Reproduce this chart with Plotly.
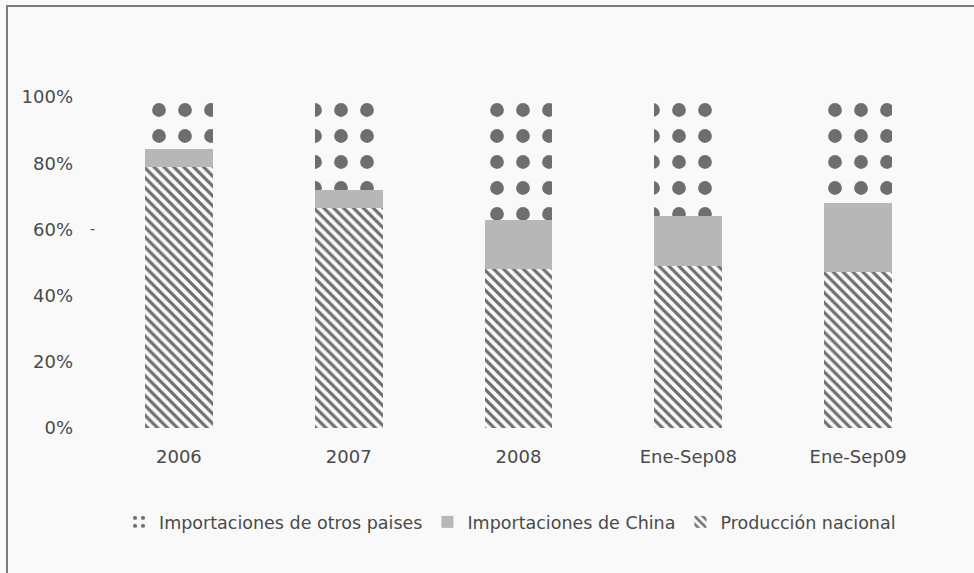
import plotly.graph_objects as go

categories = ["2006", "2007", "2008", "Ene-Sep08", "Ene-Sep09"]
produccion_nacional = [0.79, 0.665, 0.48, 0.49, 0.47]
importaciones_china = [0.053, 0.055, 0.148, 0.15, 0.21]
importaciones_otros = [0.157, 0.28, 0.372, 0.36, 0.32]

font_family = "DejaVu Sans"
text_color = "#4a4a4a"

fig = go.Figure()
fig.add_trace(go.Bar(
    x=categories, y=produccion_nacional, name="Producción nacional",
    marker=dict(color="#6e6e6e", line=dict(width=0),
                pattern=dict(shape="\\", size=7, solidity=0.45,
                             bgcolor="#f9f9f9", fillmode="replace")),
))
fig.add_trace(go.Bar(
    x=categories, y=importaciones_china, name="Importaciones de China",
    marker=dict(color="#b7b7b7", line=dict(width=0)),
))
fig.add_trace(go.Bar(
    x=categories, y=importaciones_otros, name="Importaciones de otros paises",
    marker=dict(color="#6e6e6e", line=dict(width=0),
                pattern=dict(shape=".", size=26, solidity=0.22,
                             bgcolor="#f9f9f9", fillmode="replace")),
))

fig.update_layout(
    width=974, height=573,
    barmode="stack", bargap=0.6,
    paper_bgcolor="#f9f9f9", plot_bgcolor="#f9f9f9",
    margin=dict(l=94, r=31, t=97, b=145),
    font=dict(family=font_family, size=16, color=text_color),
    showlegend=True,
    legend=dict(orientation="h", traceorder="reversed", x=0.49, xanchor="center",
                y=-0.284, yanchor="middle", font=dict(size=17.5, color=text_color),
                itemwidth=30, bgcolor="rgba(0,0,0,0)"),
    xaxis=dict(showgrid=False, showline=False, zeroline=False, ticks="",
               ticklabelstandoff=16, tickfont=dict(size=18)),
    yaxis=dict(range=[0, 1], tickvals=[0, 0.2, 0.4, 0.6, 0.8, 1.0],
               ticktext=["0%", "20%", "40%", "60%", "80%", "100%"],
               showgrid=False, showline=False, zeroline=False, ticks="",
               ticklabelstandoff=20, tickfont=dict(size=18)),
    shapes=[dict(type="rect", xref="paper", yref="paper",
                 x0=-0.1025, x1=1.2, y0=-0.6, y1=1.275,
                 line=dict(color="#7a7a7a", width=2), fillcolor="rgba(0,0,0,0)",
                 layer="below")],
    annotations=[dict(text="-", xref="paper", yref="y", x=-0.007, y=0.6,
                      showarrow=False, font=dict(size=14, color=text_color))],
)

fig.write_html("out.html")
